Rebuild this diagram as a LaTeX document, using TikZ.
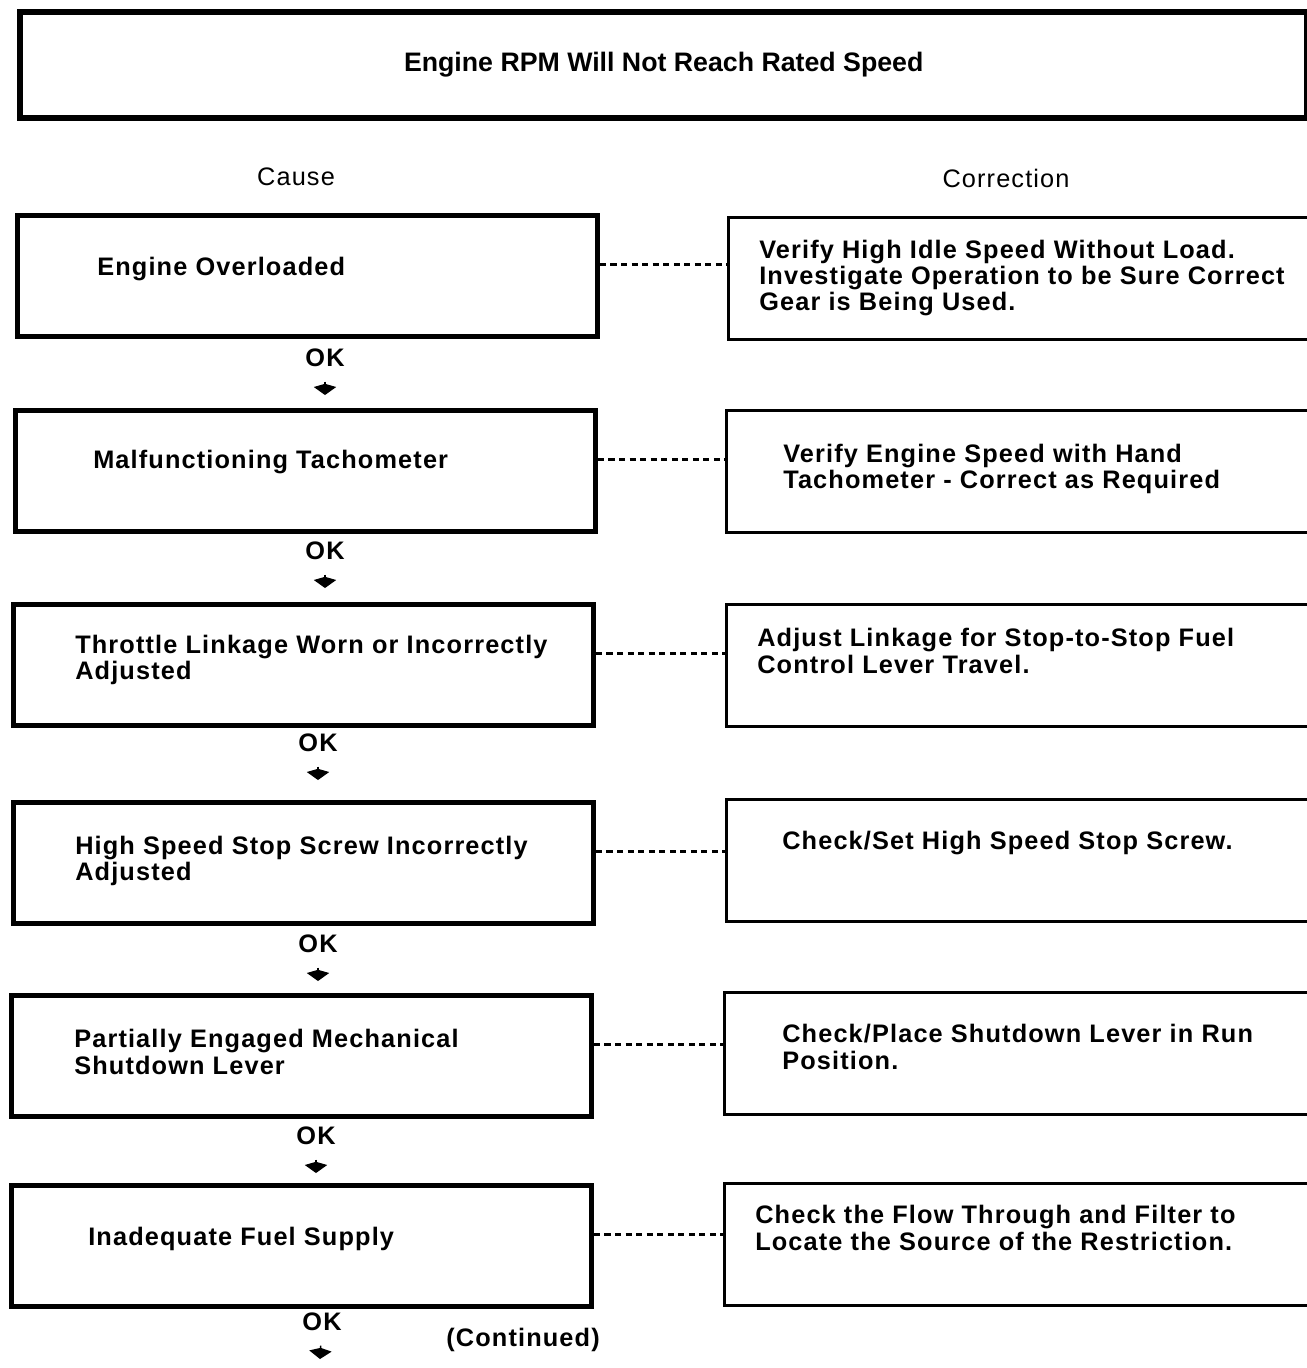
\documentclass[tikz,border=0pt]{standalone}
\usepackage{fontspec}
\setmainfont{Liberation Sans}
\newfontfamily\chartfont[LetterSpace=4.5]{Liberation Sans}
\usetikzlibrary{arrows.meta,positioning}

\begin{document}
\begin{tikzpicture}[x=0.025cm,y=-0.025cm,
  titlebox/.style={draw,line width=4.3pt,minimum width=32.175cm,minimum height=2.65cm,anchor=north west,font=\fontsize{19}{22}\selectfont\bfseries},
  causebox/.style={draw,line width=3.4pt,minimum width=14.5cm,minimum height=3.025cm,anchor=north west},
  fixbox/.style={draw,line width=2pt,minimum width=15.25cm,minimum height=3.05cm,anchor=north west},
  boxtext/.style={anchor=west,inner sep=0pt,align=left,font=\chartfont\fontsize{18}{18.8}\selectfont\bfseries},
  headtext/.style={inner sep=0pt,font=\chartfont\fontsize{18}{18.8}\selectfont},
  oktext/.style={inner sep=0pt,font=\chartfont\fontsize{18}{18.8}\selectfont\bfseries},
  link/.style={line width=2pt,dash pattern=on 4.3pt off 3.2pt},
  okarrow/.style={-{Kite[length=0.28cm,width=0.56cm,inset=0.08cm]},line width=1pt,shorten <=0.36cm}
]
\useasboundingbox (0,0) rectangle (1307,1368);
\clip (0,0) rectangle (1307,1368);

% title and column heads
\node[titlebox] (top) at (17,9) {Engine RPM Will Not Reach Rated Speed};
\node[headtext] (cause) at (296,177) {Cause};
\node[headtext] (corr) at (1006,178) {Correction};

% cause column
\node[causebox] (c1) at (15,213) {};
\node[causebox] (c2) at (13,408) {};
\node[causebox] (c3) at (11,602) {};
\node[causebox] (c4) at (11,800) {};
\node[causebox] (c5) at (9,993) {};
\node[causebox] (c6) at (9,1183) {};
\node[boxtext] (c1t) at (97,269) {Engine Overloaded};
\node[boxtext] (c2t) at (93,462) {Malfunctioning Tachometer};
\node[boxtext] (c3t) at (75,660) {Throttle Linkage Worn or Incorrectly\\Adjusted};
\node[boxtext] (c4t) at (75,861) {High Speed Stop Screw Incorrectly\\Adjusted};
\node[boxtext] (c5t) at (74,1052) {Partially Engaged Mechanical\\Shutdown Lever};
\node[boxtext] (c6t) at (88,1239) {Inadequate Fuel Supply};

% correction column
\node[fixbox] (r1) at (727,216) {};
\node[fixbox] (r2) at (725,409) {};
\node[fixbox] (r3) at (725,603) {};
\node[fixbox] (r4) at (725,798) {};
\node[fixbox] (r5) at (723,991) {};
\node[fixbox] (r6) at (723,1182) {};
\node[boxtext] (r1t) at (759,278) {Verify High Idle Speed Without Load.\\Investigate Operation to be Sure Correct\\Gear is Being Used.};
\node[boxtext] (r2t) at (783,469) {Verify Engine Speed with Hand\\Tachometer - Correct as Required};
\node[boxtext] (r3t) at (757,651) {Adjust Linkage for Stop-to-Stop Fuel\\Control Lever Travel.};
\node[boxtext] (r4t) at (782,843) {Check/Set High Speed Stop Screw.};
\node[boxtext] (r5t) at (782,1047) {Check/Place Shutdown Lever in Run\\Position.};
\node[boxtext] (r6t) at (755,1228) {Check the Flow Through and Filter to\\Locate the Source of the Restriction.};

% dashed links
\foreach \i in {1,...,6}
  \draw[link] ([yshift=0.28cm]c\i.east) -- ([yshift=0.28cm]c\i.east -| r\i.west);

% OK steps
\node[oktext] (ok1) at (325,358) {OK};
\node[oktext] (ok2) at (325,551) {OK};
\node[oktext] (ok3) at (318,743) {OK};
\node[oktext] (ok4) at (318,944) {OK};
\node[oktext] (ok5) at (316,1136) {OK};
\node[oktext] (ok6) at (322,1322) {OK};
\coordinate (d1) at (325,395);
\coordinate (d2) at (325,588);
\coordinate (d3) at (318,780);
\coordinate (d4) at (318,981);
\coordinate (d5) at (316,1173);
\coordinate (d6) at (320,1359);
\foreach \i in {1,...,6}
  \draw[okarrow] (ok\i) -- (d\i);

\node[oktext] (cont) at (523,1340) {(Continued)};
\end{tikzpicture}
\end{document}
